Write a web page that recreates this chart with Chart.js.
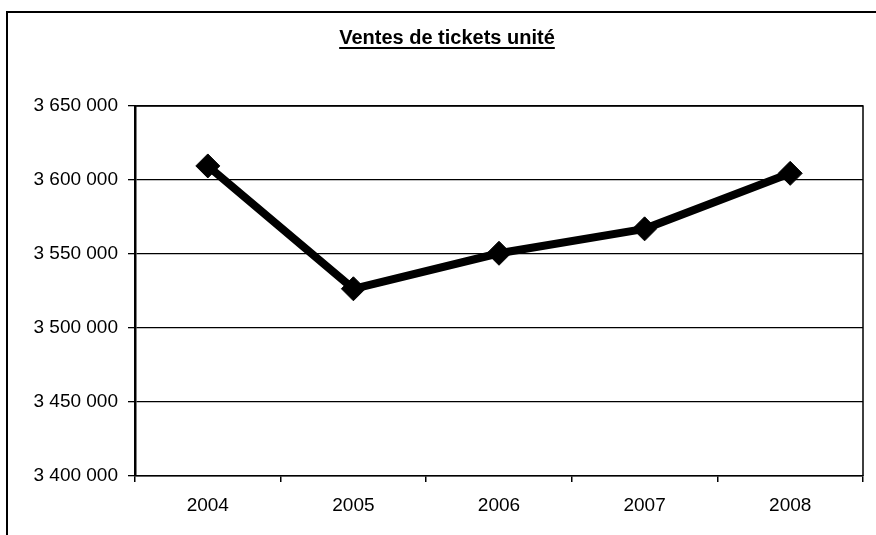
<!DOCTYPE html>
<html lang="fr">
<head>
    <meta charset="UTF-8">
    <title>Ventes de tickets unité</title>
    <script src="https://cdn.jsdelivr.net/npm/chart.js@4.4.1/dist/chart.umd.min.js"></script>
    <style>
        html, body { margin: 0; padding: 0; background: #fff; }
        .wrap { width: 876px; height: 535px; position: relative; }
    </style>
</head>
<body>
    <div class="wrap">
        <canvas id="ventes"></canvas>
    </div>

    <script>
        // data
        const years = ['2004', '2005', '2006', '2007', '2008'];
        const tickets = [3609500, 3526500, 3550500, 3567000, 3604500];
        const yMin = 3400000;
        const yMax = 3650000;
        const yStep = 50000;

        const titleFont = 'bold 20px Arial, "Liberation Sans", sans-serif';

        function formatNumber(v) {
            return String(v).replace(/\B(?=(\d{3})+(?!\d))/g, ' ');
        }

        // outer frame, plot frame and title underline
        const framePlugin = {
            id: 'frame',
            beforeDraw(chart) {
                const ctx = chart.ctx;
                ctx.save();
                ctx.fillStyle = '#fff';
                ctx.fillRect(0, 0, chart.width, chart.height);
                ctx.strokeStyle = '#000';
                ctx.lineWidth = 2;
                ctx.strokeRect(7, 12, 900, 600);
                ctx.restore();
            },
            afterDraw(chart) {
                const ctx = chart.ctx;
                const a = chart.chartArea;
                ctx.save();
                ctx.strokeStyle = '#000';
                ctx.lineWidth = 1.5;
                ctx.beginPath();
                ctx.moveTo(a.left, a.top);
                ctx.lineTo(a.right, a.top);
                ctx.lineTo(a.right, a.bottom);
                ctx.stroke();

                // underline the title
                const t = chart.titleBlock;
                ctx.font = titleFont;
                const w = ctx.measureText(chart.options.plugins.title.text).width;
                const cx = t.left + t.width / 2;
                const y = t.top + t.options.padding.top + 22;
                ctx.lineWidth = 2;
                ctx.beginPath();
                ctx.moveTo(cx - w / 2, y);
                ctx.lineTo(cx + w / 2, y);
                ctx.stroke();
                ctx.restore();
            }
        };

        new Chart(document.getElementById('ventes'), {
            type: 'line',
            data: {
                labels: years,
                datasets: [{
                    label: 'Ventes de tickets unité',
                    data: tickets,
                    borderColor: '#000',
                    borderWidth: 8,
                    backgroundColor: '#000',
                    pointStyle: 'rectRot',
                    pointRadius: 12,
                    pointBackgroundColor: '#000',
                    pointBorderColor: '#000',
                    pointBorderWidth: 1,
                    tension: 0,
                    fill: false
                }]
            },
            options: {
                responsive: true,
                maintainAspectRatio: false,
                animation: false,
                layout: { padding: { left: 27, right: 9, top: 0, bottom: 0 } },
                plugins: {
                    legend: { display: false },
                    tooltip: { enabled: false },
                    title: {
                        display: true,
                        text: 'Ventes de tickets unité',
                        color: '#000',
                        font: { family: 'Arial, "Liberation Sans", sans-serif', size: 20, weight: 'bold' },
                        padding: { top: 26, bottom: 56 }
                    }
                },
                scales: {
                    x: {
                        offset: true,
                        grid: {
                            offset: true,
                            drawOnChartArea: false,
                            drawTicks: true,
                            tickLength: 6,
                            color: '#000',
                            lineWidth: 1.5
                        },
                        border: { color: '#000', width: 1.5 },
                        ticks: {
                            color: '#000',
                            padding: 12,
                            maxRotation: 0,
                            font: { family: 'Arial, "Liberation Sans", sans-serif', size: 19 }
                        },
                        afterFit(scale) { scale.height = 59; }
                    },
                    y: {
                        min: yMin,
                        max: yMax,
                        grid: {
                            color: '#000',
                            lineWidth: 1.3,
                            drawTicks: true,
                            tickLength: 7
                        },
                        border: { color: '#000', width: 2.5 },
                        ticks: {
                            stepSize: yStep,
                            color: '#000',
                            padding: 10,
                            font: { family: 'Arial, "Liberation Sans", sans-serif', size: 19 },
                            callback: value => formatNumber(value)
                        },
                        afterFit(scale) { scale.width = 108; }
                    }
                }
            },
            plugins: [framePlugin]
        });
    </script>
</body>
</html>
